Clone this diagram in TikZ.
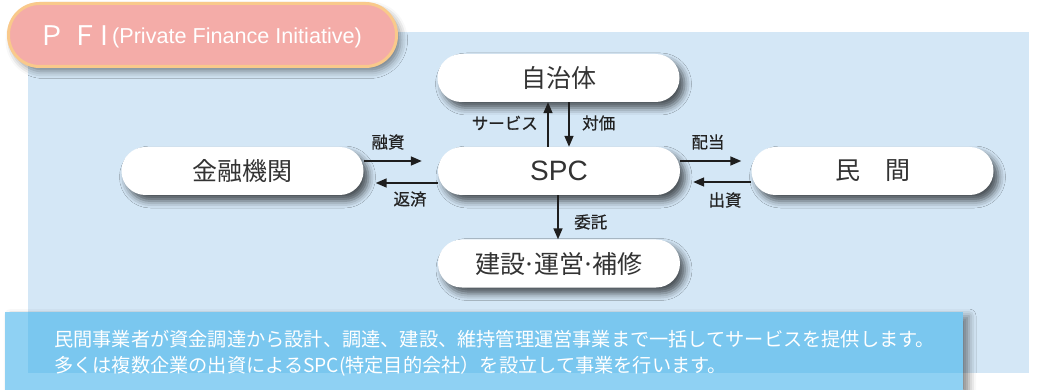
\documentclass[tikz,border=0pt]{standalone}
\usepackage{fontspec}
\setmainfont{Noto Sans CJK JP}
\newfontfamily\lat{Liberation Sans}
\newfontfamily\jpbold[FakeBold=0.6]{Noto Sans CJK JP}
\usetikzlibrary{calc,arrows.meta,shadows.blur}
\definecolor{panel}{HTML}{D4E7F6}
\definecolor{boxblue}{HTML}{7AC7EF}
\definecolor{boxbluelight}{HTML}{8FD1F3}
\definecolor{pillfill}{HTML}{F4ACA8}
\definecolor{pillline}{HTML}{F9C98B}
\definecolor{boxtext}{HTML}{333333}
\definecolor{lbltext}{HTML}{222222}
\definecolor{arrowc}{HTML}{1E1E1E}
\tikzset{
  nodebox/.style={rectangle, rounded corners=23.9pt, minimum width=242pt, minimum height=48pt,
    fill=white, text=boxtext, inner sep=0pt, font=\fontsize{25}{25}\selectfont,
    blur shadow={shadow xshift=5pt, shadow yshift=-6pt, shadow blur radius=7pt, shadow opacity=65}},
  lbl/.style={font=\jpbold\fontsize{16.5}{16.5}\selectfont, text=lbltext, inner sep=0pt},
  arr/.style={line width=1.6pt, draw=arrowc, -{Triangle[length=11pt,width=9pt]}},
  desc/.style={font=\fontsize{19.2}{19.2}\selectfont, text=white, inner sep=0pt, anchor=base west},
}
\begin{document}
\begin{tikzpicture}[x=1pt,y=-1pt]
\useasboundingbox (0,0) rectangle (1044,390);
% background panel
\fill[panel] (28,32) rectangle (1029,373);
% title pill
\node[rectangle, rounded corners=31pt, minimum width=388pt, minimum height=63pt, inner sep=0pt,
  fill=pillfill, draw=pillline, line width=3pt,
  blur shadow={shadow xshift=4pt, shadow yshift=-5pt, shadow blur radius=7pt, shadow opacity=45}] (title) at (202.5,35) {};
\node[anchor=base west, inner sep=0pt, text=white, font=\fontsize{27}{27}\selectfont] (pfi) at (38,46) {Ｐ\hspace{6pt}Ｆ\hspace{2.5pt}I};
\node[anchor=base west, inner sep=0pt, text=white, font=\lat\fontsize{21.6}{21.6}\selectfont] (pfien) at (112,44) {(Private Finance Initiative)};
% nodes
\node[nodebox] (jichi) at (558.5,78) {自治体};
\node[nodebox, font=\lat\fontsize{28}{28}\selectfont] (spc) at (559,171) {SPC};
\node[nodebox] (kin) at (242.5,171) {金融機関};
\node[nodebox] (min) at (872.5,171) {民　間};
\node[nodebox] (ken) at (559,263.5) {建設\kern-3pt·\kern-3pt運営\kern-3pt·\kern-3pt補修};
% vertical arrows
\draw[arr] ($(spc.north)+(-11,0)$) -- ($(jichi.south)+(-10.5,0)$);
\draw[arr] ($(jichi.south)+(10.5,0)$) -- ($(spc.north)+(10,0)$);
\draw[arr] ($(spc.south)+(-1,0)$) coordinate (ks) -- (ks |- ken.north);
% horizontal arrows
\draw[arr] ($(kin.east)+(0,-10)$) -- ($(spc.west)+(-16,-10)$);
\draw[arr] ($(spc.west)+(0,12)$) -- ($(kin.east)+(12,12)$);
\draw[arr] ($(spc.east)+(0,-10)$) -- ($(min.west)+(-10,-10)$);
\draw[arr] ($(min.west)+(0,11)$) -- ($(spc.east)+(13,11)$);
% labels
\node[lbl, anchor=east] (l1) at (538,123) {サービス};
\node[lbl, anchor=west] (l2) at (582,123) {対価};
\node[lbl] (l3) at (388,142) {融資};
\node[lbl] (l4) at (410,199) {返済};
\node[lbl] (l5) at (708,142) {配当};
\node[lbl] (l6) at (725,200) {出資};
\node[lbl, anchor=west] (l7) at (574,222) {委託};
% description box
\path[fill=boxblue, blur shadow={shadow xshift=6pt, shadow yshift=-4pt, shadow blur radius=7pt, shadow opacity=45}] (5,312) rectangle (963,390);
\fill[boxbluelight] (5,312) rectangle (28,390);
\fill[boxbluelight] (28,373) rectangle (963,390);
\node[desc] (d1) at (54,346) {民間事業者が資金調達から設計、調達、建設、維持管理運営事業まで一括してサービスを提供します。};
\node[desc] (d2) at (54,372) {多くは複数企業の出資によるSPC(特定目的会社）を設立して事業を行います。};
\end{tikzpicture}
\end{document}
